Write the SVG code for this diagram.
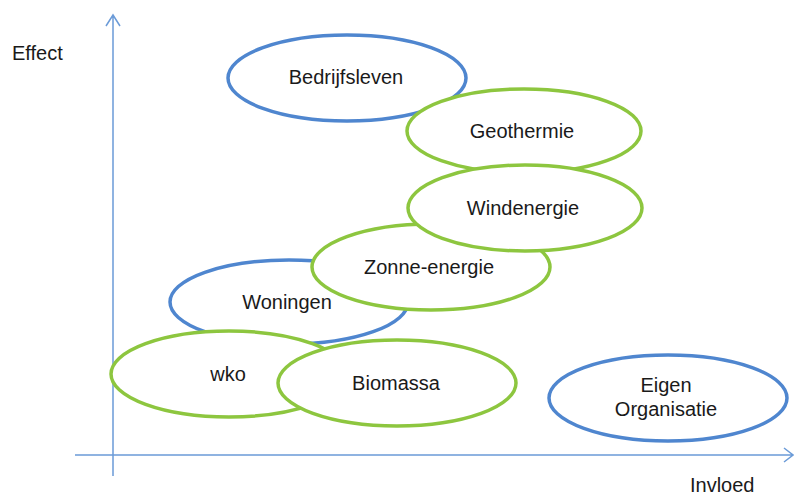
<svg xmlns="http://www.w3.org/2000/svg" width="794" height="495" viewBox="0 0 794 495">
<style>
.b{fill:#fff;stroke:#4f86cf;stroke-width:3.5}
.g{fill:#fff;stroke:#8dc63f;stroke-width:3.5}
text{font-family:"Liberation Sans",Arial,sans-serif;font-size:20px;fill:#1a1a1a;text-anchor:middle}
.ax{stroke:#6b9bd8;stroke-width:1.5;fill:none}
</style>
<rect width="794" height="495" fill="#fff"/>
<g id="axes">
<path class="ax" d="M113,476 V15 M106,26 L113,15 L120,26"/>
<path class="ax" d="M75,455 H793 M784,448 L793,455 L784,462"/>
</g>
<text x="12" y="60" style="text-anchor:start">Effect</text>
<text x="690" y="492" style="text-anchor:start">Invloed</text>
<g id="bedrijfsleven"><ellipse class="b" cx="347" cy="78" rx="119" ry="43"/><text x="346" y="84">Bedrijfsleven</text></g>
<g id="geothermie"><ellipse class="g" cx="524" cy="131" rx="117" ry="42"/><text x="522" y="138">Geothermie</text></g>
<g id="woningen"><ellipse class="b" cx="289" cy="302" rx="119" ry="42"/><text x="287" y="309">Woningen</text></g>
<g id="zonne-energie"><ellipse class="g" cx="431" cy="267" rx="119" ry="43"/><text x="429" y="274">Zonne-energie</text></g>
<g id="windenergie"><ellipse class="g" cx="525" cy="208" rx="117" ry="43"/><text x="523" y="215">Windenergie</text></g>
<g id="wko"><ellipse class="g" cx="229" cy="374" rx="118" ry="43"/><text x="228" y="381">wko</text></g>
<g id="biomassa"><ellipse class="g" cx="397" cy="383" rx="119" ry="43"/><text x="396" y="390">Biomassa</text></g>
<g id="eigen-organisatie"><ellipse class="b" cx="668" cy="398" rx="119" ry="43"/><text x="666" y="392">Eigen</text><text x="666" y="416">Organisatie</text></g>
</svg>
